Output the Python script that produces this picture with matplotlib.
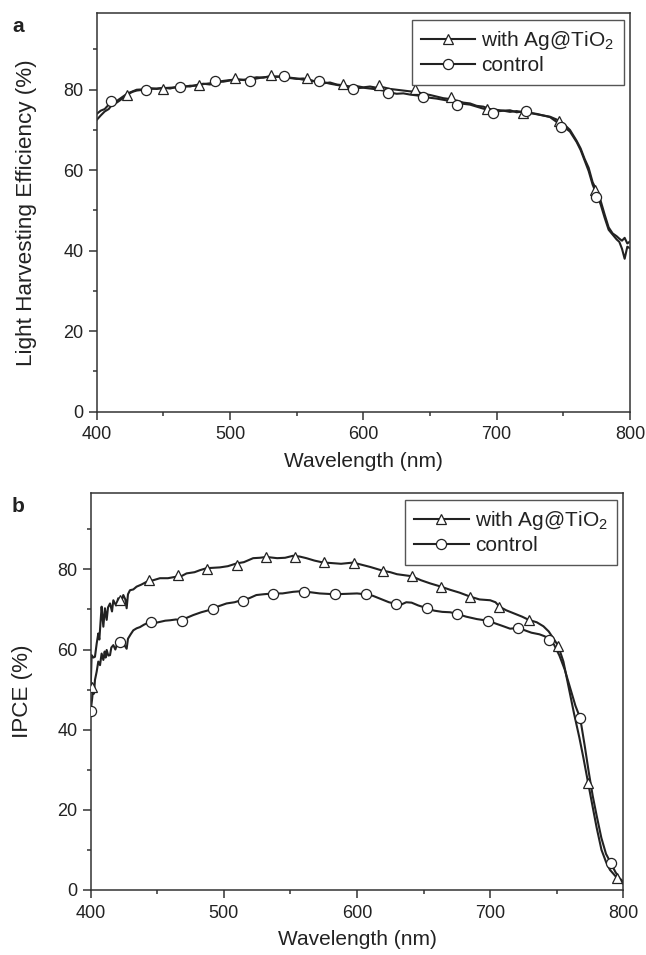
import matplotlib
matplotlib.use("Agg")
import matplotlib.pyplot as plt
from matplotlib.lines import Line2D
from matplotlib.ticker import MultipleLocator

plt.rcParams['font.family'] = ['Liberation Sans', 'DejaVu Sans']
plt.rcParams['mathtext.fontset'] = 'custom'
plt.rcParams['mathtext.rm'] = 'Liberation Sans'
plt.rcParams['mathtext.it'] = 'Liberation Sans:italic'

# ---------------- Panel a: Light harvesting efficiency ----------------
wl_a = [400, 403, 406, 409, 412, 415, 418, 421, 424, 427,
        430, 435, 440, 445, 450, 455, 460, 465, 470, 475,
        480, 485, 490, 495, 500, 505, 510, 515, 520, 525,
        530, 535, 540, 545, 550, 555, 560, 565, 570, 575,
        580, 585, 590, 595, 600, 605, 610, 615, 620, 625,
        630, 635, 640, 645, 650, 655, 660, 665, 670, 675,
        680, 685, 690, 695, 700, 705, 710, 715, 720, 725,
        730, 735, 740, 745, 750, 755, 760,
        763, 766, 769, 772, 775, 778, 781, 784, 787, 790,
        792, 794, 796, 798, 800]
lhe_ag = [74.0, 74.8, 75.2, 76.3, 76.0, 77.2, 77.9, 78.6, 79.2, 79.6,
          80.0, 80.1, 80.4, 80.2, 80.5, 80.3, 80.7, 80.9, 80.8, 81.2,
          81.5, 81.3, 81.9, 82.2, 82.4, 82.6, 82.4, 82.8, 83.1, 83.0,
          83.4, 83.2, 83.3, 82.9, 82.7, 82.8, 82.4, 82.0, 81.6, 81.8,
          81.3, 81.1, 80.8, 80.9, 80.6, 80.8, 80.5, 80.6, 80.2, 80.0,
          79.8, 79.6, 79.5, 79.0, 78.7, 78.3, 77.9, 77.7, 77.3, 76.8,
          76.6, 76.0, 75.8, 75.2, 75.0, 74.8, 74.9, 74.4, 74.6, 74.2,
          74.0, 73.6, 73.3, 72.6, 71.6, 70.0, 67.3,
          65.4, 62.8, 60.6, 57.0, 55.0, 52.4, 49.0, 45.8, 44.3, 43.6,
          43.0, 42.5, 43.2, 41.8, 42.3]
lhe_ctrl = [72.5, 73.6, 74.6, 75.2, 76.5, 76.8, 77.5, 78.3, 79.0, 79.5,
            79.8, 80.0, 80.2, 80.3, 80.4, 80.5, 80.6, 80.7, 81.0, 81.0,
            81.4, 81.6, 82.0, 82.0, 82.3, 82.5, 82.5, 82.3, 82.8, 83.1,
            83.2, 83.3, 83.2, 83.0, 82.8, 82.5, 82.3, 82.0, 81.9, 81.5,
            81.2, 80.9, 80.6, 80.4, 80.5, 80.3, 80.1, 79.8, 79.3, 79.0,
            79.1, 78.8, 78.6, 78.3, 78.0, 77.8, 77.5, 77.2, 76.8, 76.5,
            76.3, 75.8, 75.3, 74.9, 74.6, 74.8, 74.5, 74.7, 74.4, 74.3,
            73.9, 73.6, 73.2, 72.0, 70.9, 69.6, 67.0,
            65.0, 62.4, 59.8, 56.4, 54.0, 51.5, 48.2, 45.2, 44.0, 42.8,
            42.2, 40.5, 38.0, 41.0, 40.6]

tri_a_x = [423, 450, 477, 504, 531, 558, 585, 612, 639, 666, 693, 720, 747, 774]
tri_a_y = [78.7, 80.2, 81.2, 83.0, 83.6, 83.0, 81.5, 81.3, 80.2, 78.2, 75.3, 74.2, 72.2, 55.0]
cir_a_x = [410.5, 437, 462.5, 489, 515, 540.5, 567, 592.5, 618.5, 645, 670.5, 697, 722, 748.5, 774.5]
cir_a_y = [77.3, 80.0, 80.8, 82.2, 82.1, 83.3, 82.2, 80.3, 79.1, 78.1, 76.3, 74.2, 74.6, 70.7, 53.4]

# ---------------- Panel b: IPCE ----------------
wl_b_ag = [400, 400.7, 402, 403.2, 404.5, 405.7, 406.5, 407.5, 408.2, 409.5,
           410.7, 412, 413, 414.5, 416, 417, 419, 420.7, 422.5, 424.5,
           426, 427, 428, 429.5, 432, 434.5, 438, 442, 447, 452,
           458, 464.6, 468, 472, 478, 482, 487, 492, 497, 503,
           509.6, 515, 522, 527, 532, 540, 546, 552, 557, 562,
           568, 574.7, 580, 588, 597, 603, 610, 619, 625, 630,
           641, 648, 655, 663, 670, 677, 685, 692, 700, 704,
           707, 712, 718, 724, 729, 735, 740, 744, 748, 751,
           755, 759, 763, 767, 770, 773.4, 777.4, 780, 783.6, 787,
           790, 795, 800]
ipce_ag = [50.7, 58.6, 58.0, 58.2, 61.5, 64.0, 62.5, 67.4, 70.7, 65.7,
           70.3, 67.4, 70.5, 71.5, 69.5, 72.3, 71.0, 72.8, 71.5, 73.6,
           72.5, 70.3, 73.8, 74.8, 75.0, 75.7, 76.2, 76.9, 77.3, 77.8,
           77.8, 78.2, 78.3, 79.0, 79.3, 79.8, 80.3, 80.4, 80.5, 80.8,
           81.5, 81.8, 82.8, 82.9, 83.1, 82.8, 82.9, 83.4, 83.2, 82.8,
           82.2, 81.7, 81.6, 81.4, 81.7, 81.2, 80.6, 79.7, 79.3, 78.8,
           78.3, 77.3, 76.5, 75.7, 74.9, 74.2, 73.2, 72.5, 72.3, 71.8,
           70.7, 69.8, 69.0, 68.2, 67.4, 66.8, 65.8, 64.5, 62.5, 61.0,
           57.0, 50.5, 44.0, 38.0, 33.0, 27.0, 20.0, 15.5, 10.0, 7.0,
           5.0, 3.1, 1.5]

wl_b_ctrl = [400, 401, 401.8, 402.5, 403.2, 404.5, 405.7, 407, 408.2, 409.5,
             410.5, 411.2, 412, 413.2, 414.5, 415.5, 417, 418.5, 420, 422,
             424, 425.5, 427, 428, 430, 432, 434.5, 437, 440, 444.5,
             448, 452, 456, 459.5, 464, 468, 472, 477, 483, 490.7,
             496, 502, 508, 513, 519, 524.4, 530, 537, 544, 552,
             559.4, 565, 572, 583, 592, 600, 606, 612, 618, 624,
             629, 633, 637, 641, 646, 652.7, 658, 664, 670, 675,
             682, 690, 698, 704, 710, 715, 721, 726, 731, 737,
             741, 744, 748, 752, 756, 760, 764, 767.6, 771, 774,
             777, 780, 783.5, 787, 790.7, 794, 797, 800]
ipce_ctrl = [44.7, 47.5, 50.0, 49.0, 52.4, 54.5, 57.0, 56.1, 59.0, 57.4,
             59.5, 58.0, 59.9, 58.5, 58.6, 60.5, 61.1, 60.0, 61.5, 62.0,
             62.8, 61.0, 60.2, 62.7, 63.8, 64.8, 65.3, 65.6, 66.2, 66.9,
             66.6, 66.9, 67.2, 67.3, 67.5, 67.3, 67.9, 68.6, 69.3, 70.0,
             70.8, 71.5, 71.8, 72.3, 72.8, 73.6, 73.8, 74.0, 74.0, 74.4,
             74.6, 74.3, 74.0, 73.8, 73.9, 74.0, 73.8, 73.4, 72.6, 71.8,
             71.4, 71.2, 71.8, 71.7, 71.0, 70.3, 69.7, 69.4, 69.3, 68.9,
             68.2, 67.6, 67.2, 66.5, 65.8, 65.2, 65.4, 64.8, 64.2, 63.8,
             63.3, 62.5, 61.2, 58.5, 55.0, 50.5, 46.0, 42.9, 36.0, 29.5,
             23.5, 18.5, 13.0, 9.0, 6.7, 4.5, 3.0, 2.0]

tri_b_x = [401, 422, 444, 465.5, 487.5, 509.5, 531.5, 553.5, 575.5, 597.5,
           619.5, 641, 663, 685, 707, 729, 751, 773.5, 795]
tri_b_y = [50.7, 72.3, 77.3, 78.6, 80.2, 81.2, 83.2, 83.2, 81.9, 81.7,
           79.7, 78.3, 75.7, 73.2, 70.7, 67.4, 61.0, 26.8, 3.1]
cir_b_x = [400, 422, 445.5, 468.5, 491.5, 514.5, 537, 560, 583.5, 606.5,
           629, 652.5, 675, 698, 721, 744, 767.5, 790.5]
cir_b_y = [44.7, 62.0, 66.8, 67.2, 70.0, 72.2, 73.8, 74.4, 73.8, 73.8,
           71.4, 70.3, 68.9, 67.2, 65.4, 62.5, 42.9, 6.7]

x_ticks = [400, 500, 600, 700, 800]
y_ticks = [0, 20, 40, 60, 80]
labels = ['with Ag@TiO$_2$', 'control']

LINE = '#222222'
SPINE = '#333333'
TEXT = '#222222'

fig = plt.figure(figsize=(6.46, 9.55), dpi=100)
ax_a = fig.add_axes([0.1497, 0.5689, 0.8255, 0.4172])
ax_b = fig.add_axes([0.1404, 0.0681, 0.8245, 0.4154])


def style(ax, ylabel, ylab_x, ylab_size):
    ax.set_xlim(400, 800)
    ax.set_ylim(0, 99)
    ax.set_xticks(x_ticks)
    ax.set_yticks(y_ticks)
    ax.xaxis.set_minor_locator(MultipleLocator(50))
    ax.yaxis.set_minor_locator(MultipleLocator(10))
    ax.tick_params(which='both', direction='out', top=False, right=False,
                   colors=SPINE, labelcolor=TEXT, width=1.1)
    ax.tick_params(which='major', length=5.5, labelsize=13)
    ax.tick_params(axis='x', which='major', pad=5)
    ax.tick_params(axis='y', which='major', pad=4)
    ax.tick_params(which='minor', length=3)
    for s in ax.spines.values():
        s.set_color(SPINE)
        s.set_linewidth(1.1)
    ax.set_xlabel('Wavelength (nm)', fontsize=15, color=TEXT)
    ax.set_ylabel(ylabel, fontsize=ylab_size, color=TEXT)
    ax.xaxis.set_label_coords(0.5, -0.1)
    ax.yaxis.set_label_coords(ylab_x, 0.5)


def draw(ax, x1, y1, mx1, my1, x2, y2, mx2, my2):
    ax.plot(x1, y1, color=LINE, lw=1.5, zorder=2)
    ax.plot(x2, y2, color=LINE, lw=1.5, zorder=2)
    ax.plot(mx1, my1, ls='none', marker='^', ms=7.5, mfc='white', mec=LINE,
            mew=0.9, zorder=3)
    ax.plot(mx2, my2, ls='none', marker='o', ms=7.3, mfc='white', mec=LINE,
            mew=0.9, zorder=3)
    handles = [Line2D([], [], color=LINE, lw=1.5, marker='^', ms=7.5,
                      mfc='white', mec=LINE, mew=0.9),
               Line2D([], [], color=LINE, lw=1.5, marker='o', ms=7.3,
                      mfc='white', mec=LINE, mew=0.9)]
    leg = ax.legend(handles, labels, loc='upper right', fontsize=15,
                    frameon=True, fancybox=False, framealpha=1,
                    edgecolor='#555555', handlelength=2.6, handletextpad=0.3,
                    labelspacing=0.22, borderpad=0.45, borderaxespad=0.3,
                    numpoints=1)
    leg.get_frame().set_linewidth(1.0)
    for t in leg.get_texts():
        t.set_color(TEXT)
    return leg


draw(ax_a, wl_a, lhe_ag, tri_a_x, tri_a_y, wl_a, lhe_ctrl, cir_a_x, cir_a_y)
style(ax_a, 'Light Harvesting Efficiency (%)', -0.112, 16.2)

draw(ax_b, wl_b_ag, ipce_ag, tri_b_x, tri_b_y, wl_b_ctrl, ipce_ctrl, cir_b_x, cir_b_y)
style(ax_b, 'IPCE (%)', -0.108, 16.2)

fig.text(12 / 646, 1 - 27 / 955, 'a', fontsize=15, fontweight='bold',
         color=TEXT, ha='left', va='center')
fig.text(12 / 646, 1 - 507 / 955, 'b', fontsize=15, fontweight='bold',
         color=TEXT, ha='left', va='center')

fig.savefig('out.png', dpi=100, facecolor='white')
